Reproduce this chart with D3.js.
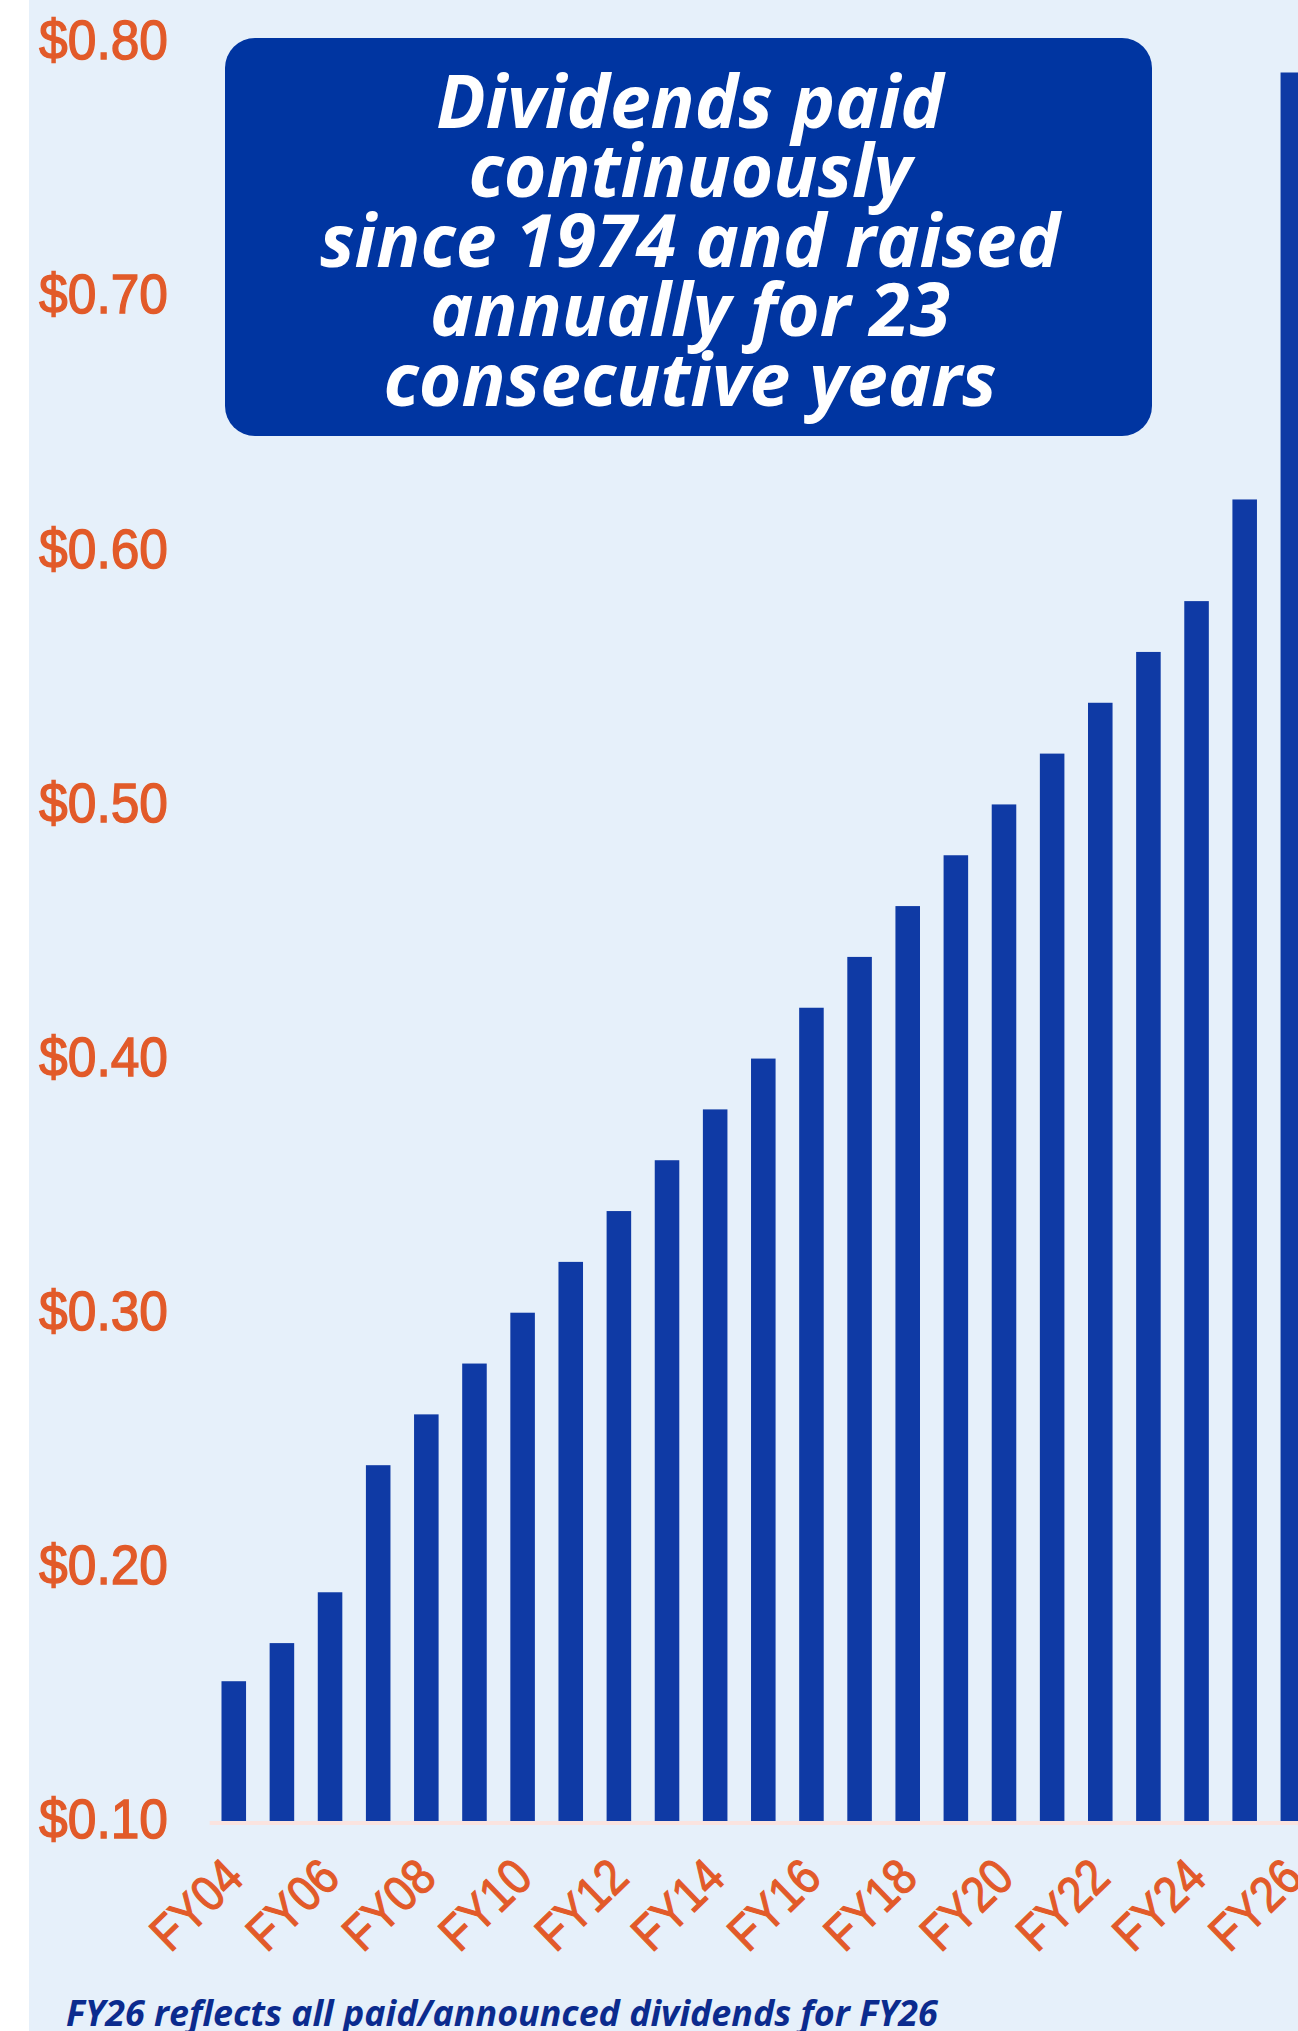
<!DOCTYPE html>
<html>
<head>
<meta charset="utf-8">
<script src="https://cdn.jsdelivr.net/npm/d3@7"></script>
<style>
    html, body { margin: 0; padding: 0; background: #fff; }
    svg { display: block; }
</style>
</head>
<body>
<svg class="chart" width="1298" height="2031"></svg>
<script>
(() => {
    'use strict';

    // data
    const years = ['FY04', 'FY05', 'FY06', 'FY07', 'FY08', 'FY09', 'FY10', 'FY11', 'FY12',
                   'FY13', 'FY14', 'FY15', 'FY16', 'FY17', 'FY18', 'FY19', 'FY20', 'FY21',
                   'FY22', 'FY23', 'FY24', 'FY25', 'FY26'];
    const dividends = [0.155, 0.17, 0.19, 0.24, 0.26, 0.28, 0.30, 0.32, 0.34,
                       0.36, 0.38, 0.40, 0.42, 0.44, 0.46, 0.48, 0.50, 0.52,
                       0.54, 0.56, 0.58, 0.62, 0.788];
    const yTicks = [0.10, 0.20, 0.30, 0.40, 0.50, 0.60, 0.70, 0.80];
    const xTickLabels = ['FY04', 'FY06', 'FY08', 'FY10', 'FY12', 'FY14',
                         'FY16', 'FY18', 'FY20', 'FY22', 'FY24', 'FY26'];
    const titleLines = ['Dividends paid', 'continuously', 'since 1974 and raised',
                        'annually for 23', 'consecutive years'];
    const footnote = 'FY26 reflects all paid/announced dividends for FY26';

    const width = 1298,
          height = 2031,
          orange = '#E25A29',
          barBlue = '#0F3AA5',
          boxBlue = '#0035A1',
          noteBlue = '#0B2B8E',
          svg = d3.select('.chart');

    const data = years.map((y, i) => ({ year: y, value: dividends[i] }));

    const x = d3.scaleBand()
        .domain(years)
        .range([209.7, 1316.9])
        .paddingInner(0.49)
        .paddingOuter(0.245);

    const y = d3.scaleLinear()
        .domain([0.10, 0.80])
        .range([1821, 42]);

    // page background with the white strip on the left
    svg.append('rect')
        .attr('width', width)
        .attr('height', height)
        .attr('fill', '#fff');
    svg.append('rect')
        .attr('x', 29)
        .attr('width', width - 29)
        .attr('height', height)
        .attr('fill', '#E6F0FA');

    // bars
    svg.append('g')
        .selectAll('rect')
        .data(data)
        .enter()
        .append('rect')
        .attr('fill', barBlue)
        .attr('x', d => x(d.year))
        .attr('width', x.bandwidth())
        .attr('y', d => y(d.value))
        .attr('height', d => y(0.10) - y(d.value));

    // baseline
    svg.append('line')
        .attr('x1', x.range()[0])
        .attr('x2', width)
        .attr('y1', y(0.10) + 2)
        .attr('y2', y(0.10) + 2)
        .attr('stroke', '#FAE3DF')
        .attr('stroke-width', 4);

    // y axis
    const yAxis = d3.axisLeft(y)
        .tickValues(yTicks)
        .tickSize(0)
        .tickPadding(0)
        .tickFormat(d => '$' + d.toFixed(2));

    const gy = svg.append('g')
        .attr('transform', 'translate(168, 0)')
        .call(yAxis);
    gy.select('.domain').remove();
    gy.selectAll('text')
        .attr('fill', orange)
        .attr('stroke', orange)
        .attr('stroke-width', 1.4)
        .attr('dy', '0.3em')
        .attr('transform', 'scale(0.92, 1)')
        .style('font-family', '"Liberation Sans", Arial, sans-serif')
        .style('font-size', '56px');

    // x axis, every other year, rotated
    const xAxis = d3.axisBottom(x)
        .tickValues(xTickLabels)
        .tickSize(0)
        .tickPadding(0);

    const gx = svg.append('g')
        .attr('transform', 'translate(0, 1868)')
        .call(xAxis);
    gx.select('.domain').remove();
    gx.selectAll('text')
        .attr('y', 0)
        .attr('dy', '0.35em')
        .attr('fill', orange)
        .attr('stroke', orange)
        .attr('stroke-width', 1.2)
        .attr('text-anchor', 'end')
        .attr('transform', 'rotate(-44) scale(0.88, 1)')
        .style('font-family', '"Liberation Sans", Arial, sans-serif')
        .style('font-size', '50px');

    // title box
    svg.append('rect')
        .attr('x', 225)
        .attr('y', 38)
        .attr('width', 927)
        .attr('height', 398)
        .attr('rx', 30)
        .attr('fill', boxBlue);

    const fitWidth = (sel, base, target) => {
        const w = d3.max(sel.nodes(), n => n.getComputedTextLength());
        sel.style('font-size', (base * target / w) + 'px');
    };

    const title = svg.append('g')
        .selectAll('text')
        .data(titleLines)
        .enter()
        .append('text')
        .attr('x', 690)
        .attr('y', (d, i) => 128 + i * 69.4)
        .attr('text-anchor', 'middle')
        .attr('fill', '#fff')
        .style('font-family', '"Open Sans", "DejaVu Sans", sans-serif')
        .style('font-weight', 700)
        .style('font-style', 'italic')
        .style('font-size', '64px')
        .text(d => d);
    fitWidth(title, 64, 740);

    const note = svg.append('text')
        .attr('x', 66)
        .attr('y', 2026)
        .attr('fill', noteBlue)
        .style('font-family', '"Open Sans", "DejaVu Sans", sans-serif')
        .style('font-weight', 700)
        .style('font-style', 'italic')
        .style('font-size', '30px')
        .text(footnote);
    fitWidth(note, 30, 872);
})();
</script>
</body>
</html>
